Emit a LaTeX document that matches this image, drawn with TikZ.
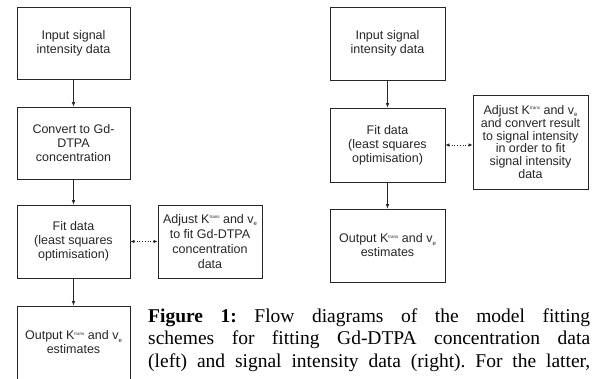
\documentclass[tikz,border=0pt]{standalone}
\usepackage{fontspec}
\setmainfont{Liberation Serif}
\newfontfamily\boxfont{Liberation Sans}
\usetikzlibrary{arrows.meta}
\frenchspacing
\newcommand{\Ktr}{K\raisebox{0.75ex}{\fontsize{4.5}{4.5}\selectfont trans}}
\newcommand{\vesub}{v\raisebox{-0.35ex}{\fontsize{6}{6}\selectfont e}}
\begin{document}
\begin{tikzpicture}[x=1pt,y=-1pt,
  flowbox/.style={draw=black!85, line width=0.7pt, align=center, inner sep=0pt,
    font=\boxfont\fontsize{12.5}{14}\selectfont, text=black!85},
  flowarrow/.style={draw=black!85, line width=0.7pt, -{Latex[length=4.5pt,width=3.5pt]}},
  dotarrow/.style={draw=black!85, line width=0.7pt, dotted, {Latex[length=4pt,width=3.5pt]}-{Latex[length=4pt,width=3.5pt]}},
  captionline/.style={anchor=base west, inner sep=0pt, font=\frenchspacing\fontsize{19.5}{22.5}\selectfont}
]
\useasboundingbox (0,0) rectangle (595,378);
\clip (0,0) rectangle (595,378);
% left column
\node[flowbox, minimum width=113pt, minimum height=72pt] (a1) at (73.5,43) {Input signal\\intensity data};
\node[flowbox, minimum width=113pt, minimum height=72pt] (a2) at (73.5,143) {Convert to Gd-\\DTPA\\concentration};
\node[flowbox, minimum width=113pt, minimum height=73pt] (a3) at (73.5,241.5) {Fit data\\(least squares\\optimisation)};
\node[flowbox, minimum width=113pt, minimum height=73pt] (a4) at (73.5,342.5) {Output \Ktr{} and \vesub\\estimates};
\node[flowbox, minimum width=104pt, minimum height=73pt, font=\boxfont\fontsize{12.5}{15}\selectfont] (al) at (210,241.5) {Adjust \Ktr{} and \vesub\\to fit Gd-DTPA\\concentration\\data};
\draw[flowarrow] (a1) -- (a2);
\draw[flowarrow] (a2) -- (a3);
\draw[flowarrow] (a3) -- (a4);
\draw[dotarrow] (a3.east) -- (al.west);
% right column
\node[flowbox, minimum width=115pt, minimum height=73pt] (b1) at (387.5,43.5) {Input signal\\intensity data};
\node[flowbox, minimum width=115pt, minimum height=74pt] (b2) at (387.5,145) {Fit data\\(least squares\\optimisation)};
\node[flowbox, minimum width=115pt, minimum height=73pt] (b3) at (387.5,245.5) {Output \Ktr{} and \vesub\\estimates};
\node[flowbox, minimum width=115pt, minimum height=94pt, font=\boxfont\fontsize{12.5}{12.8}\selectfont] (ar) at (530.5,142) {Adjust \Ktr{} and \vesub\\and convert result\\to signal intensity\\in order to fit\\signal intensity\\data};
\draw[flowarrow] (b1) -- (b2);
\draw[flowarrow] (b2) -- (b3);
\draw[dotarrow] (b2.east) -- (b2.east -| ar.west);
% caption
\node[captionline] (c1) at (148,322)
  {\makebox[442pt][s]{\textbf{Figure 1:} Flow diagrams of the model fitting}};
\node[captionline] (c2) at (148,344.5)
  {\makebox[442pt][s]{schemes for fitting Gd-DTPA concentration data}};
\node[captionline] (c3) at (148,367)
  {\makebox[442pt][s]{(left) and signal intensity data (right). For the latter,}};
\end{tikzpicture}
\end{document}
